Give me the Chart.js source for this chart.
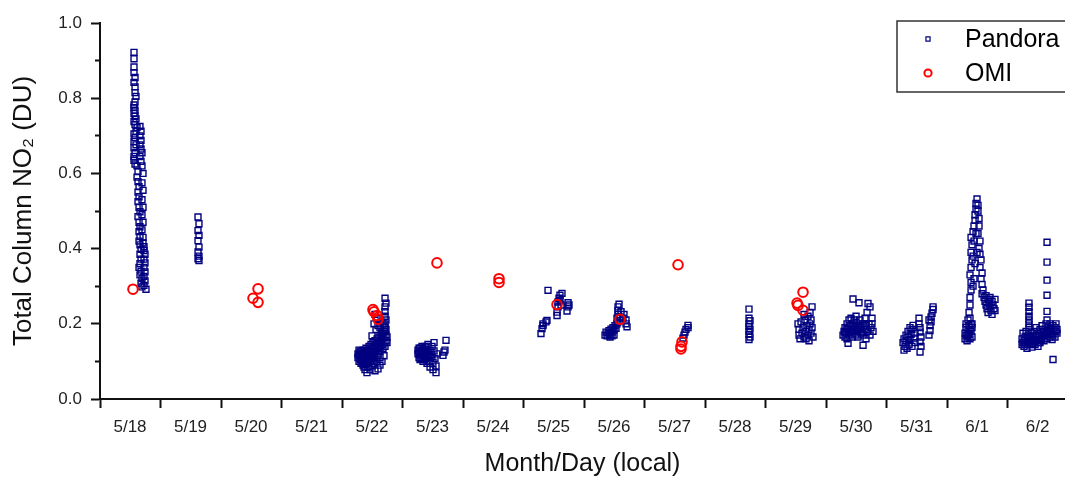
<!DOCTYPE html>
<html>
<head>
<meta charset="utf-8">
<script src="https://cdn.jsdelivr.net/npm/chart.js@4.4.0/dist/chart.umd.min.js"></script>
<style>
html,body{margin:0;padding:0;background:#fff;}
#wrap{width:1065px;height:477px;position:relative;}
</style>
</head>
<body>
<div id="wrap"><canvas id="c" width="1065" height="477"></canvas></div>
<script>
// Day labels (tick i marks the start of local day i, label sits mid-day)
const dayLabels = ['5/18','5/19','5/20','5/21','5/22','5/23','5/24','5/25','5/26','5/27','5/28','5/29','5/30','5/31','6/1','6/2'];
const yTickValues = [0.0,0.1,0.2,0.3,0.4,0.5,0.6,0.7,0.8,0.9,1.0];

// Pandora: [time in days since 5/18 00:00 local, total column NO2 (DU)]
const pandora0518 = [[0.562,0.922],[0.562,0.905],[0.562,0.883],[0.562,0.868],[0.579,0.855],[0.562,0.842],[0.579,0.83],[0.579,0.815],[0.595,0.805],[0.579,0.79],[0.562,0.782],[0.562,0.775],[0.579,0.768],[0.562,0.76],[0.579,0.752],[0.595,0.745],[0.562,0.738],[0.579,0.73],[0.612,0.722],[0.595,0.712],[0.562,0.705],[0.579,0.695],[0.562,0.685],[0.595,0.676],[0.562,0.668],[0.579,0.655],[0.562,0.645],[0.562,0.635],[0.579,0.625],
  [0.661,0.725],[0.678,0.712],[0.661,0.70],[0.678,0.688],[0.661,0.676],[0.678,0.665],[0.694,0.655],[0.661,0.645],[0.678,0.632],
  [0.612,0.62],[0.628,0.605],[0.612,0.59],[0.628,0.578],[0.645,0.565],[0.628,0.55],[0.645,0.538],[0.628,0.525],[0.645,0.51],[0.661,0.498],[0.628,0.485],[0.645,0.47],[0.661,0.458],[0.645,0.445],[0.661,0.432],[0.645,0.42],[0.661,0.41],[0.678,0.398],[0.661,0.385],[0.678,0.372],[0.661,0.36],[0.645,0.35],[0.678,0.34],[0.661,0.33],[0.694,0.32],[0.678,0.308],[0.694,0.298],
  [0.727,0.395],[0.744,0.385],[0.727,0.372],[0.744,0.362],[0.727,0.35],[0.744,0.338],[0.727,0.326],[0.744,0.314],[0.727,0.302],[0.76,0.292],
  [0.694,0.62],[0.711,0.60],[0.694,0.575],[0.711,0.555],[0.694,0.53],[0.711,0.51],[0.694,0.49],[0.711,0.47],[0.694,0.45],[0.711,0.43],[0.711,0.415],[0.727,0.405]];
const pandora0519 = [[1.62,0.484],[1.636,0.466],[1.62,0.448],[1.636,0.435],[1.62,0.421],[1.636,0.404],[1.62,0.391],[1.636,0.38],[1.62,0.373],[1.636,0.368]];
const pandora0522 = [[4.264,0.12],[4.264,0.11],[4.281,0.13],[4.281,0.10],[4.298,0.115],[4.298,0.125],[4.314,0.105],[4.314,0.095],[4.331,0.12],[4.331,0.11],[4.347,0.13],[4.347,0.10],[4.347,0.09],[4.364,0.085],[4.364,0.115],[4.38,0.125],[4.38,0.105],[4.38,0.078],[4.397,0.095],[4.397,0.135],[4.413,0.115],[4.413,0.07],[4.43,0.105],[4.43,0.125],[4.43,0.085],[4.446,0.14],[4.446,0.095],[4.463,0.12],[4.463,0.11],[4.463,0.078],[4.479,0.13],[4.479,0.145],[4.496,0.1],[4.496,0.118],[4.496,0.088],[4.512,0.135],[4.512,0.15],[4.529,0.125],[4.529,0.108],[4.529,0.095],[4.545,0.14],[4.545,0.155],[4.562,0.13],[4.562,0.115],[4.579,0.145],[4.579,0.16],[4.579,0.1],[4.595,0.135],[4.595,0.12],[4.612,0.15],[4.612,0.165],[4.628,0.14],[4.628,0.128],[4.628,0.11],[4.645,0.155],[4.645,0.17],[4.661,0.145],[4.661,0.16],[4.678,0.175],[4.678,0.135],[4.694,0.15],[4.694,0.165],[4.711,0.14],[4.711,0.18],[4.727,0.155],[4.727,0.17],[4.744,0.165],[4.744,0.15],
  [4.711,0.19],[4.711,0.2],[4.727,0.21],[4.711,0.22],[4.711,0.232],[4.711,0.245],[4.727,0.255],[4.711,0.268],
  [4.529,0.2],[4.562,0.185],[4.595,0.195],[4.628,0.19],[4.579,0.215],[4.545,0.225],[4.496,0.168],[4.678,0.2],[4.645,0.205],
  [4.595,0.08],[4.628,0.09],[4.661,0.1],[4.694,0.115],[4.545,0.075],
  [4.281,0.118],[4.298,0.105],[4.314,0.128],[4.331,0.098],[4.347,0.118],[4.364,0.1],[4.364,0.128],[4.38,0.092],[4.397,0.112],[4.397,0.122],[4.413,0.098],[4.413,0.13],[4.43,0.115],[4.446,0.108],[4.446,0.125],[4.463,0.135],[4.479,0.118],[4.479,0.1],[4.512,0.122],[4.512,0.108],[4.545,0.128],[4.562,0.145],[4.595,0.15],[4.612,0.135],[4.645,0.14],[4.661,0.175],[4.694,0.18],[4.727,0.185]];
const pandora0523 = [[5.256,0.13],[5.256,0.12],[5.273,0.11],[5.273,0.125],[5.289,0.135],[5.289,0.105],[5.306,0.118],[5.306,0.128],[5.322,0.11],[5.322,0.14],[5.339,0.122],[5.339,0.1],[5.355,0.132],[5.355,0.115],[5.372,0.125],[5.372,0.105],[5.388,0.138],[5.388,0.118],[5.405,0.128],[5.405,0.095],[5.421,0.112],[5.421,0.145],[5.438,0.12],[5.438,0.1],[5.455,0.13],[5.455,0.085],[5.471,0.11],[5.488,0.14],[5.488,0.118],[5.504,0.098],[5.504,0.078],[5.521,0.128],[5.537,0.108],[5.554,0.088],[5.554,0.07],[5.521,0.15],[5.57,0.12],
  [5.273,0.135],[5.289,0.12],[5.306,0.108],[5.322,0.125],[5.339,0.135],[5.355,0.105],[5.372,0.14],[5.388,0.108],[5.405,0.115],
  [5.669,0.116],[5.686,0.125],[5.702,0.13],[5.719,0.156]];
const pandora0525 = [[7.289,0.174],[7.306,0.187],[7.322,0.195],[7.322,0.2],[7.372,0.205],[7.388,0.209],[7.405,0.289],[7.554,0.222],[7.554,0.231],[7.57,0.245],[7.57,0.258],[7.587,0.268],[7.603,0.276],[7.636,0.281],[7.62,0.25],[7.603,0.262],[7.736,0.256],[7.736,0.245],[7.719,0.234],[7.752,0.25]];
const pandora0526 = [[8.347,0.17],[8.364,0.178],[8.38,0.168],[8.397,0.175],[8.413,0.182],[8.43,0.172],[8.446,0.186],[8.463,0.178],[8.479,0.19],[8.463,0.168],[8.496,0.183],[8.512,0.195],[8.529,0.188],[8.545,0.2],[8.562,0.205],[8.545,0.215],[8.562,0.225],[8.562,0.235],[8.562,0.245],[8.579,0.252],[8.595,0.218],[8.612,0.232],[8.645,0.215],[8.694,0.21],[8.694,0.2],[8.711,0.192],[8.661,0.225],[8.43,0.165],[8.496,0.17]];
const pandora0527 = [[9.636,0.162],[9.653,0.17],[9.669,0.178],[9.686,0.185],[9.719,0.19],[9.719,0.196]];
const pandora0528 = [[10.727,0.239],[10.727,0.215],[10.744,0.208],[10.727,0.2],[10.727,0.193],[10.744,0.186],[10.727,0.18],[10.727,0.172],[10.744,0.165],[10.727,0.158]];
const pandora0529 = [[11.537,0.2],[11.554,0.185],[11.554,0.17],[11.57,0.16],[11.587,0.205],[11.603,0.175],[11.62,0.19],[11.636,0.165],[11.653,0.21],[11.669,0.18],[11.669,0.16],[11.686,0.195],[11.702,0.22],[11.702,0.17],[11.719,0.185],[11.736,0.2],[11.736,0.23],[11.752,0.175],[11.752,0.21],[11.769,0.19],[11.785,0.165],[11.769,0.245],[11.719,0.155],[11.636,0.225]];
const pandora0530 = [[12.281,0.17],[12.298,0.18],[12.314,0.165],[12.314,0.19],[12.331,0.175],[12.347,0.2],[12.347,0.16],[12.364,0.185],[12.364,0.148],[12.38,0.21],[12.38,0.17],[12.397,0.195],[12.413,0.18],[12.413,0.215],[12.43,0.165],[12.43,0.2],[12.446,0.266],[12.446,0.185],[12.463,0.175],[12.463,0.21],[12.479,0.19],[12.496,0.17],[12.496,0.22],[12.512,0.2],[12.529,0.18],[12.529,0.165],[12.545,0.256],[12.545,0.195],[12.562,0.21],[12.579,0.175],[12.579,0.19],[12.595,0.2],[12.612,0.143],[12.612,0.17],[12.628,0.185],[12.645,0.215],[12.661,0.195],[12.661,0.16],[12.678,0.23],[12.694,0.254],[12.694,0.18],[12.711,0.2],[12.727,0.245],[12.727,0.17],[12.744,0.19],[12.76,0.215],[12.76,0.2],[12.777,0.18],
  [12.314,0.178],[12.347,0.188],[12.397,0.178],[12.43,0.185],[12.463,0.195],[12.512,0.185],[12.562,0.185],[12.595,0.178],[12.628,0.2],[12.661,0.178]];
const pandora0531 = [[13.273,0.15],[13.289,0.13],[13.289,0.16],[13.306,0.14],[13.322,0.17],[13.322,0.155],[13.339,0.135],[13.355,0.18],[13.355,0.165],[13.372,0.145],[13.388,0.19],[13.388,0.158],[13.405,0.172],[13.421,0.14],[13.421,0.185],[13.438,0.196],[13.455,0.162],[13.471,0.15],[13.471,0.175],
  [13.537,0.215],[13.537,0.2],[13.554,0.19],[13.554,0.178],[13.57,0.165],[13.554,0.152],[13.57,0.14],[13.554,0.125],
  [13.702,0.17],[13.719,0.182],[13.719,0.195],[13.736,0.205],[13.736,0.218],[13.752,0.228],[13.769,0.238],[13.769,0.245],[13.702,0.21]];
const pandora0601 = [[14.298,0.16],[14.298,0.175],[14.314,0.19],[14.314,0.2],[14.331,0.168],[14.331,0.155],[14.347,0.185],[14.347,0.21],[14.364,0.195],[14.364,0.172],[14.38,0.16],[14.38,0.215],[14.397,0.18],[14.397,0.2],[14.413,0.165],[14.413,0.19],
  [14.314,0.17],[14.347,0.165],[14.38,0.185],[14.413,0.2],
  [14.364,0.23],[14.38,0.25],[14.38,0.27],[14.397,0.29],[14.397,0.31],[14.38,0.33],[14.397,0.35],[14.413,0.37],[14.397,0.39],[14.413,0.41],[14.397,0.43],[14.43,0.445],[14.446,0.46],[14.463,0.475],[14.463,0.49],[14.479,0.505],[14.479,0.52],[14.496,0.532],[14.512,0.515],[14.512,0.5],[14.529,0.48],[14.529,0.46],[14.512,0.44],[14.545,0.42],[14.529,0.4],[14.545,0.385],[14.562,0.37],[14.545,0.35],[14.579,0.335],[14.562,0.32],[14.579,0.305],[14.595,0.29],[14.579,0.28],[14.446,0.42],[14.43,0.38],[14.463,0.36],[14.446,0.32],[14.43,0.3],[14.479,0.44],[14.496,0.39],
  [14.612,0.27],[14.628,0.26],[14.645,0.25],[14.645,0.275],[14.661,0.24],[14.678,0.265],[14.678,0.23],[14.694,0.255],[14.711,0.245],[14.711,0.27],[14.727,0.235],[14.744,0.26],[14.744,0.225],[14.76,0.25],[14.777,0.24],[14.793,0.265],[14.793,0.235]];
const pandora0602 = [[15.24,0.16],[15.24,0.145],[15.256,0.175],[15.273,0.155],[15.273,0.14],[15.289,0.165],[15.306,0.15],[15.306,0.18],[15.322,0.135],[15.322,0.16],[15.339,0.17],[15.355,0.155],[15.355,0.19],[15.355,0.2],[15.355,0.21],[15.355,0.22],[15.355,0.232],[15.355,0.244],[15.355,0.255],[15.372,0.145],[15.372,0.165],[15.388,0.178],[15.405,0.152],[15.405,0.138],[15.421,0.168],[15.438,0.158],[15.438,0.18],[15.455,0.145],[15.471,0.17],[15.471,0.19],[15.488,0.155],[15.504,0.175],[15.504,0.14],[15.521,0.165],[15.537,0.185],[15.537,0.15],[15.554,0.17],[15.57,0.16],[15.57,0.195],[15.587,0.178],[15.603,0.155],[15.603,0.185],[15.62,0.168],[15.636,0.2],[15.636,0.175],[15.653,0.16],[15.669,0.19],[15.669,0.172],[15.686,0.182],[15.702,0.165],[15.702,0.2],[15.719,0.188],[15.736,0.175],[15.736,0.158],[15.752,0.195],[15.769,0.18],[15.785,0.165],[15.785,0.19],[15.802,0.2],[15.818,0.175],[15.818,0.185],
  [15.256,0.15],[15.289,0.145],[15.339,0.15],[15.388,0.16],[15.421,0.148],[15.471,0.158],[15.521,0.15],[15.554,0.158],[15.603,0.17],[15.653,0.178],[15.702,0.18],[15.752,0.17],[15.802,0.18],
  [15.653,0.417],[15.653,0.364],[15.653,0.316],[15.653,0.276],[15.653,0.233],[15.653,0.21],
  [15.752,0.105]];

// OMI overpasses: [time in days since 5/18 00:00 local, NO2 (DU)]
const omiObs = [[0.545,0.292],[2.529,0.268],[2.612,0.293],[2.612,0.257],[4.512,0.238],[4.529,0.232],[4.579,0.222],[4.595,0.212],[5.57,0.362],[6.595,0.32],[6.595,0.31],[7.554,0.251],[8.595,0.212],[9.554,0.357],[9.62,0.152],[9.603,0.14],[9.603,0.133],[11.62,0.284],[11.521,0.255],[11.537,0.249],[11.62,0.236]];

const pandoraDays = [pandora0518,pandora0519,pandora0522,pandora0523,pandora0525,pandora0526,pandora0527,pandora0528,pandora0529,pandora0530,pandora0531,pandora0601,pandora0602];
const toXY = p => ({x: p[0], y: p[1]});
const pandoraPoints = [].concat(...pandoraDays).map(toXY);
const omiPoints = omiObs.map(toXY);

const FONT = "'Liberation Sans', Arial, Helvetica, sans-serif";
Chart.defaults.font.family = FONT;
const AXIS = '#111';

const boxLegend = {
  id: 'boxLegend',
  afterDraw(chart) {
    const ctx = chart.ctx;
    const ca = chart.chartArea;
    const left = ca.right - 168, top = ca.top - 2;
    ctx.save();
    ctx.strokeStyle = '#333';
    ctx.lineWidth = 1.5;
    ctx.strokeRect(left, top, 200, 71);
    ctx.font = '25px ' + FONT;
    ctx.textBaseline = 'middle';
    ctx.textAlign = 'left';
    chart.data.datasets.forEach((ds, i) => {
      const cy = top + 18 + i * 34;
      ctx.strokeStyle = ds.borderColor;
      ctx.fillStyle = 'rgba(0,0,0,0)';
      ctx.lineWidth = ds.legendBorder;
      Chart.helpers.drawPoint(ctx, {pointStyle: ds.pointStyle, radius: ds.legendRadius, borderWidth: ds.legendBorder, rotation: 0}, left + 31, cy);
      ctx.fillStyle = '#000';
      ctx.fillText(ds.label, left + 68, cy + 1);
    });
    ctx.restore();
  }
};

new Chart(document.getElementById('c'), {
  type: 'scatter',
  data: {
    datasets: [
      { label: 'Pandora', data: pandoraPoints, pointStyle: 'rect', pointRadius: 4.2, pointHoverRadius: 4.2,
        borderColor: '#000080', backgroundColor: 'rgba(0,0,0,0)', borderWidth: 1.4, order: 2,
        legendRadius: 2.9, legendBorder: 1.2 },
      { label: 'OMI', data: omiPoints, pointStyle: 'circle', pointRadius: 4.8, pointHoverRadius: 4.8,
        borderColor: '#ff0000', backgroundColor: 'rgba(0,0,0,0)', borderWidth: 2, order: 1,
        legendRadius: 3.6, legendBorder: 2 }
    ]
  },
  options: {
    responsive: false,
    animation: false,
    events: [],
    layout: { autoPadding: false, padding: { top: 23, left: 0, right: 0, bottom: 0 } },
    plugins: { legend: { display: false }, tooltip: { enabled: false } },
    scales: {
      x: {
        type: 'linear', min: 0, max: 15.95,
        afterBuildTicks: s => { s.ticks = dayLabels.map((_, i) => ({ value: i })); },
        afterFit: s => { s.height = 78; s.paddingLeft = 0; s.paddingRight = 0; },
        grid: { drawOnChartArea: false, drawTicks: true, tickLength: 9, tickWidth: 2, tickColor: AXIS },
        border: { display: true, color: AXIS, width: 2 },
        ticks: { callback: (v, i) => dayLabels[i], labelOffset: 30, padding: 9, color: '#222',
                 font: { size: 17 }, maxRotation: 0, autoSkip: false },
        title: { display: true, text: 'Month/Day (local)', color: '#111',
                 font: { size: 25, lineHeight: 1 }, padding: { top: 0, bottom: 0 } }
      },
      y: {
        type: 'linear', min: 0, max: 1.0,
        afterBuildTicks: s => { s.ticks = yTickValues.map(v => ({ value: v })); },
        afterFit: s => { s.width = 100; s.paddingTop = 0; s.paddingBottom = 0; },
        grid: { drawOnChartArea: false, drawTicks: true, tickLength: 9, tickWidth: 2, tickColor: AXIS,
                tickBorderDash: c => (c.index % 2 === 1 ? [0, 4, 6, 20] : []) },
        border: { display: true, color: AXIS, width: 2 },
        ticks: { callback: (v, i) => (i % 2 === 0 ? Number(v).toFixed(1) : ''), padding: 9, color: '#222',
                 font: { size: 17 } },
        title: { display: true, text: 'Total Column NO₂ (DU)', color: '#111',
                 font: { size: 26, lineHeight: 1 }, padding: { top: 11, bottom: 0 } }
      }
    }
  },
  plugins: [boxLegend]
});
</script>
</body>
</html>
